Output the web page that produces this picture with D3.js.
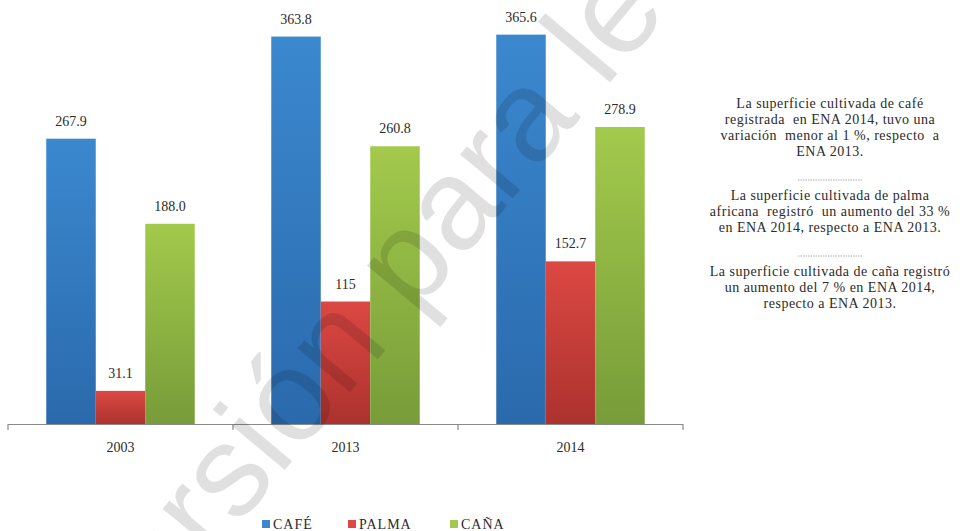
<!DOCTYPE html>
<html>
<head>
<meta charset="utf-8">
<script src="https://cdn.jsdelivr.net/npm/d3@7"></script>
<style>
  html, body { margin: 0; padding: 0; background: #ffffff; }
  svg { display: block; }
  .serif { font-family: "Liberation Serif", "DejaVu Serif", serif; fill: #2b2b2b; }
</style>
</head>
<body>
<svg id="chart" width="960" height="531"></svg>
<script>
// Superficie cultivada por año de la encuesta
const categories = ["2003", "2013", "2014"];
const seriesNames = ["CAFÉ", "PALMA", "CAÑA"];
const cafe  = [267.9, 363.8, 365.6];
const palma = [31.1, 115, 152.7];
const cana  = [188.0, 260.8, 278.9];
const cafeLabels  = ["267.9", "363.8", "365.6"];
const palmaLabels = ["31.1", "115", "152.7"];
const canaLabels  = ["188.0", "260.8", "278.9"];

const notes = [
  ["La superficie cultivada de café",
   "registrada  en ENA 2014, tuvo una",
   "variación  menor al 1 %, respecto  a",
   "ENA 2013."],
  ["La superficie cultivada de palma",
   "africana  registró  un aumento del 33 %",
   "en ENA 2014, respecto a ENA 2013."],
  ["La superficie cultivada de caña registró",
   "un aumento del 7 % en ENA 2014,",
   "respecto a ENA 2013."]
];
const watermark = "Versión para lectura";

const colors = {
  "CAFÉ":  ["#3b88cf", "#2a6aac"],
  "PALMA": ["#dc4843", "#ac322e"],
  "CAÑA":  ["#a3ca4c", "#779c39"]
};

const seriesData = [
  { name: "CAFÉ",  values: cafe,  labels: cafeLabels },
  { name: "PALMA", values: palma, labels: palmaLabels },
  { name: "CAÑA",  values: cana,  labels: canaLabels }
];

const svg = d3.select("#chart");

// vertical gradients for the bars
const defs = svg.append("defs");
seriesNames.forEach((s, i) => {
  const g = defs.append("linearGradient")
    .attr("id", "grad" + i)
    .attr("x1", 0).attr("y1", 0).attr("x2", 0).attr("y2", 1);
  g.append("stop").attr("offset", "0%").attr("stop-color", colors[s][0]);
  g.append("stop").attr("offset", "100%").attr("stop-color", colors[s][1]);
});

const x0 = d3.scaleBand().domain(categories).range([8, 683]).paddingInner(0).paddingOuter(0);
const x1 = d3.scaleBand().domain(seriesNames).range([0, x0.bandwidth()]).paddingInner(0).paddingOuter(0.773);
const y = d3.scaleLinear().domain([0, 400]).range([424, -2]);

// bars and value labels
const groups = svg.append("g").selectAll("g")
  .data(seriesData).join("g");

groups.each(function(s, si) {
  const g = d3.select(this);
  g.selectAll("rect")
    .data(s.values.map((v, i) => ({ cat: categories[i], v })))
    .join("rect")
    .attr("x", d => x0(d.cat) + x1(s.name))
    .attr("y", d => y(d.v))
    .attr("width", x1.bandwidth())
    .attr("height", d => y(0) - y(d.v))
    .attr("fill", "url(#grad" + si + ")");
  g.selectAll("text")
    .data(s.values.map((v, i) => ({ cat: categories[i], v, label: s.labels[i] })))
    .join("text")
    .attr("class", "serif")
    .attr("x", d => x0(d.cat) + x1(s.name) + x1.bandwidth() / 2)
    .attr("y", d => y(d.v) - 13)
    .attr("text-anchor", "middle")
    .attr("font-size", 14)
    .text(d => d.label);
});

// category axis with ticks at group boundaries
const axis = svg.append("g").attr("transform", "translate(0,424)");
axis.append("line")
  .attr("x1", x0.range()[0]).attr("x2", x0.range()[1])
  .attr("y1", 0.5).attr("y2", 0.5)
  .attr("stroke", "#8a8a8a").attr("stroke-width", 1.2);
const boundaries = categories.map(c => x0(c)).concat([x0.range()[1]]);
axis.selectAll("line.tick").data(boundaries).join("line")
  .attr("class", "tick")
  .attr("x1", d => d).attr("x2", d => d)
  .attr("y1", 0).attr("y2", 6)
  .attr("stroke", "#8a8a8a").attr("stroke-width", 1.2);
axis.selectAll("text").data(categories).join("text")
  .attr("class", "serif")
  .attr("x", d => x0(d) + x0.bandwidth() / 2)
  .attr("y", 28)
  .attr("text-anchor", "middle")
  .attr("font-size", 14)
  .text(d => d);

// legend
const legendX = [262, 348, 450];
const legend = svg.append("g").selectAll("g").data(seriesNames).join("g")
  .attr("transform", (d, i) => `translate(${legendX[i]},524)`);
legend.append("rect")
  .attr("x", 0).attr("y", -4).attr("width", 8).attr("height", 8)
  .attr("fill", d => colors[d][0]);
legend.append("text")
  .attr("class", "serif")
  .attr("x", 11).attr("y", 5)
  .attr("font-size", 14)
  .attr("letter-spacing", 1)
  .text(d => d);

// side notes
const notesG = svg.append("g").attr("transform", "translate(830,0)");
const blockTops = [108, 200, 276];
const dashY = [180, 256];
notes.forEach((lines, bi) => {
  lines.forEach((ln, li) => {
    notesG.append("text")
      .attr("class", "serif")
      .attr("x", 0).attr("y", blockTops[bi] + li * 16)
      .attr("text-anchor", "middle")
      .attr("font-size", 14)
      .attr("letter-spacing", 0.5)
      .attr("xml:space", "preserve")
      .text(ln);
  });
});
dashY.forEach(dy => {
  notesG.append("line")
    .attr("x1", -32).attr("x2", 32)
    .attr("y1", dy).attr("y2", dy)
    .attr("stroke", "#999").attr("stroke-width", 0.8)
    .attr("stroke-dasharray", "1.5,1");
});

// diagonal watermark
svg.append("text")
  .attr("transform", "translate(112,676) rotate(-50)")
  .attr("font-size", 130)
  .attr("fill", "#000")
  .attr("fill-opacity", 0.12)
  .style("font-family", "'Liberation Sans', Arial, sans-serif")
  .text(watermark);
</script>
</body>
</html>
